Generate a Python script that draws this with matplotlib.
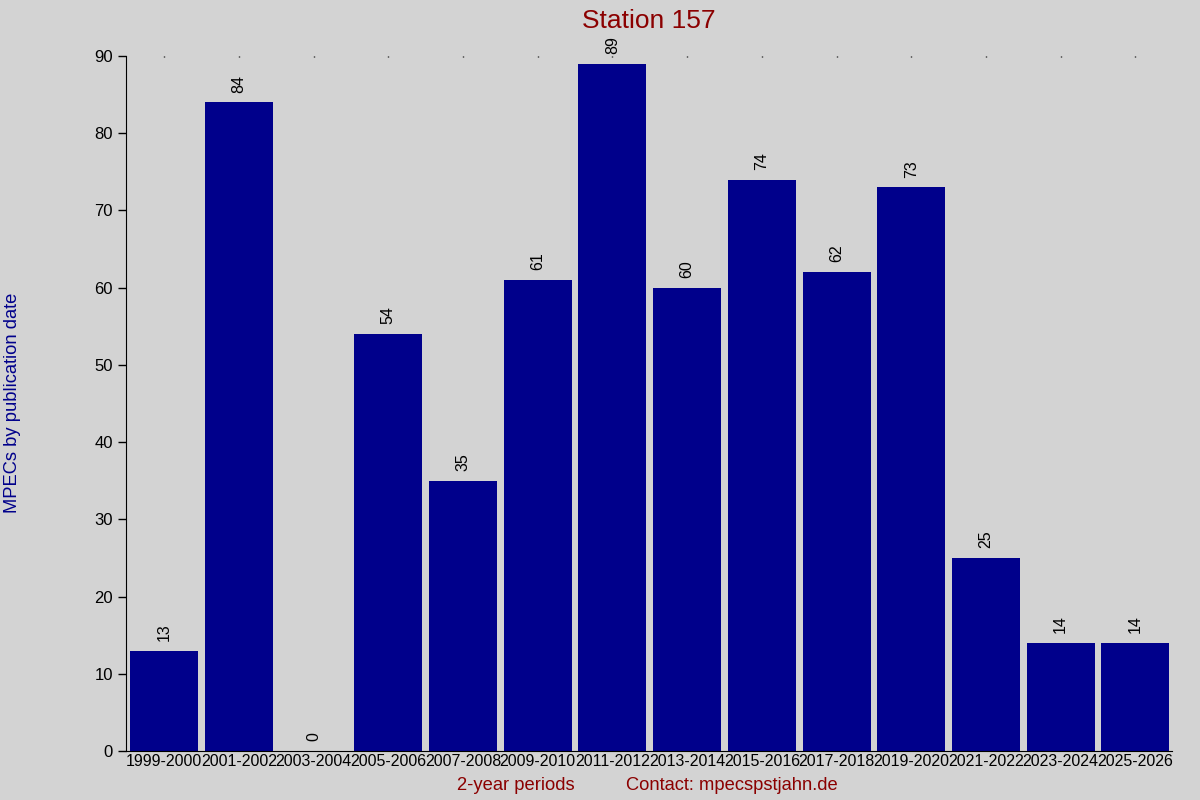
import matplotlib.pyplot as plt

periods = ["1999-2000", "2001-2002", "2003-2004", "2005-2006", "2007-2008",
           "2009-2010", "2011-2012", "2013-2014", "2015-2016", "2017-2018",
           "2019-2020", "2021-2022", "2023-2024", "2025-2026"]
counts = [13, 84, 0, 54, 35, 61, 89, 60, 74, 62, 73, 25, 14, 14]

plt.rcParams['font.family'] = ['Liberation Sans', 'DejaVu Sans']

fig = plt.figure(figsize=(12, 8), dpi=100, facecolor='#d3d3d3')
ax = fig.add_axes([0.105, 0.06125, 0.8717, 0.86875])
ax.set_facecolor('#d3d3d3')

x = list(range(len(periods)))
ax.bar(x, counts, width=0.91, color='#00008b')

# value labels above the bars
for i, v in enumerate(counts):
    ax.annotate(str(v), (i, v), xytext=(0, 7), textcoords='offset points',
                rotation=90, ha='center', va='bottom', fontsize=11.5)

ax.set_xlim(-0.51, 13.49)
ax.set_ylim(0, 90)
ax.set_yticks(range(0, 91, 10))
ax.set_xticks(x)
ax.set_xticklabels(periods, fontsize=11.5)
ax.tick_params(axis='y', labelsize=12, length=6, width=1)
ax.tick_params(axis='x', bottom=False, top=True, direction='in', length=1, width=1, pad=2)

ax.spines['top'].set_visible(False)
ax.spines['right'].set_visible(False)

ax.set_title('Station 157', color='#8b0000', fontsize=19, pad=20)
fig.text(0.43, 0.0075, '2-year periods', color='#8b0000', fontsize=13.2, ha='center', va='bottom')
fig.text(0.61, 0.0075, 'Contact: mpecspstjahn.de', color='#8b0000', fontsize=13.2, ha='center', va='bottom')
fig.text(0.0105, 0.496, 'MPECs by publication date', color='#00008b', fontsize=13.2,
         rotation=90, ha='center', va='center')

plt.savefig('out.png', dpi=100, facecolor=fig.get_facecolor())
